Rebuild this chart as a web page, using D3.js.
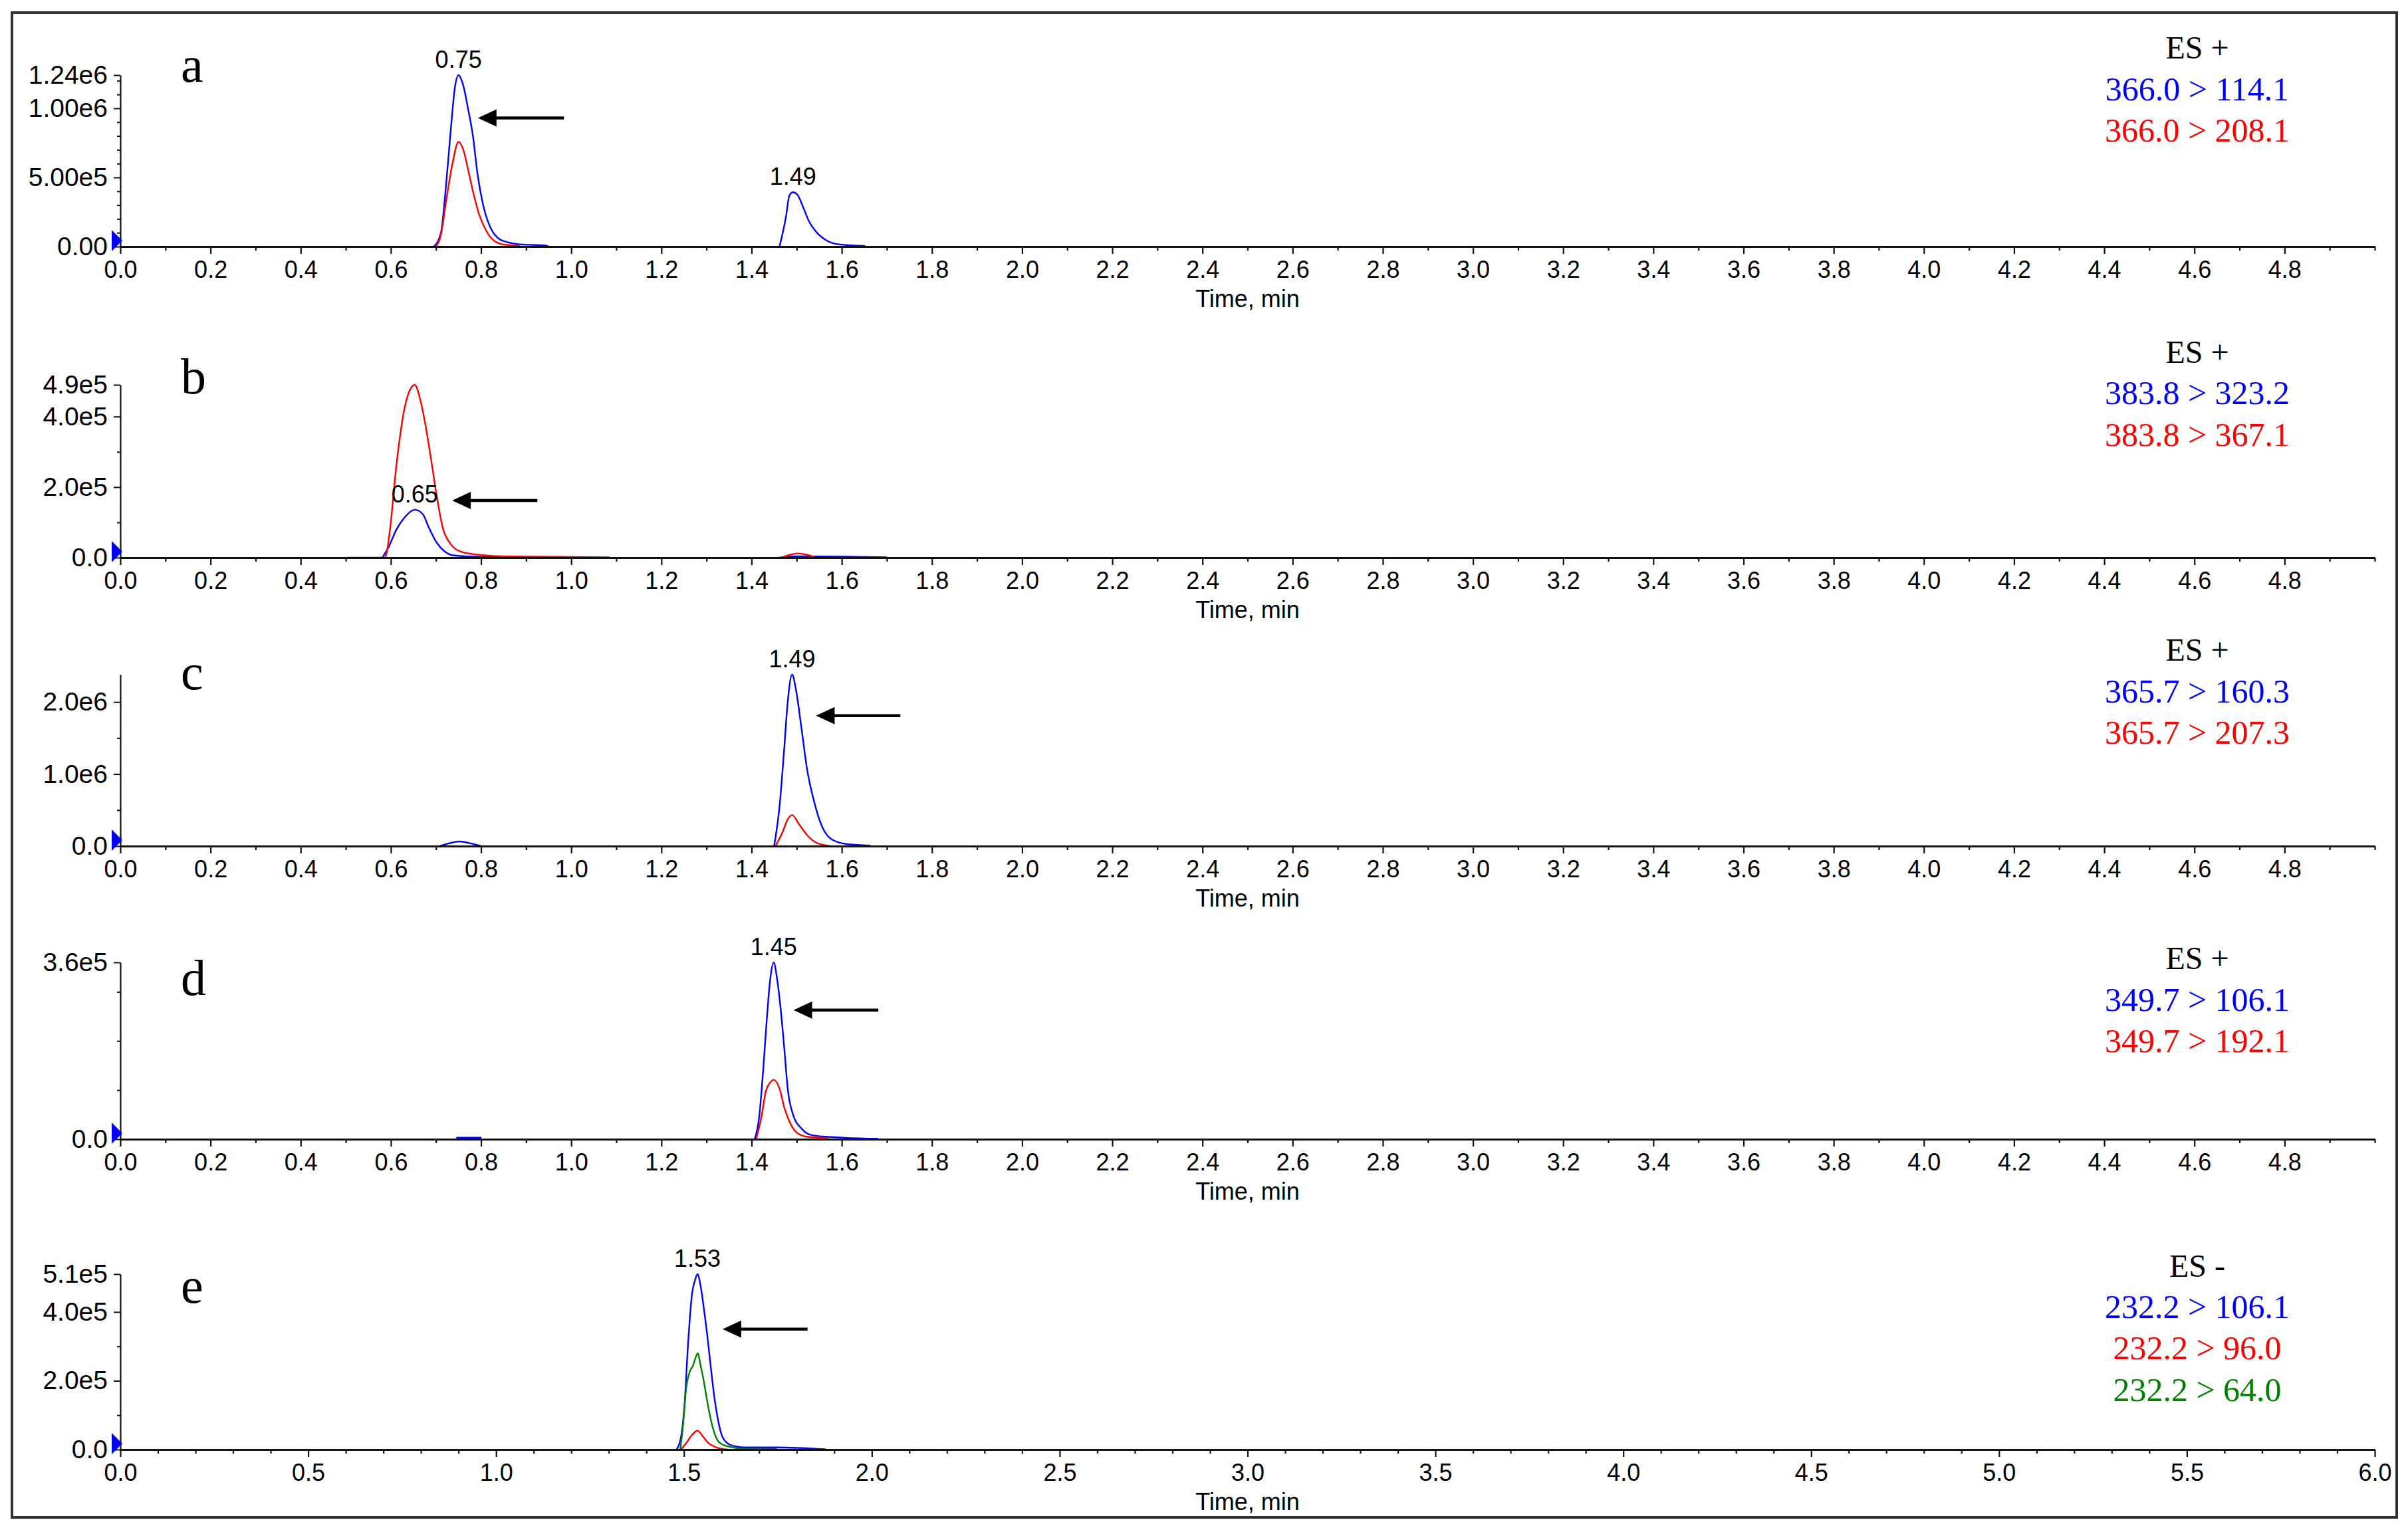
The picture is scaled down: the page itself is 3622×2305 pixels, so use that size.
<!DOCTYPE html>
<html><head><meta charset="utf-8">
<script src="https://cdn.jsdelivr.net/npm/d3@7"></script>
<style>body{margin:0;background:#fff} svg{display:block}</style>
</head><body>
<script>
// ---------------- DATA ----------------
const panelLetters = ["a", "b", "c", "d", "e"];
const xMax = [5.0, 5.0, 5.0, 5.0, 6.0];
const yMax = [1.24e6, 4.9e5, 2.38e6, 3.6e5, 5.1e5];
const xTickLabelsAD = ["0.0","0.2","0.4","0.6","0.8","1.0","1.2","1.4","1.6","1.8","2.0","2.2","2.4","2.6","2.8","3.0","3.2","3.4","3.6","3.8","4.0","4.2","4.4","4.6","4.8"];
const xTickLabelsE = ["0.0","0.5","1.0","1.5","2.0","2.5","3.0","3.5","4.0","4.5","5.0","5.5","6.0"];
const yTickValues = [[0, 5e5, 1e6, 1.24e6], [0, 2e5, 4e5, 4.9e5], [0, 1e6, 2e6], [0, 3.6e5], [0, 2e5, 4e5, 5.1e5]];
const yTickLabels = [["0.00","5.00e5","1.00e6","1.24e6"], ["0.0","2.0e5","4.0e5","4.9e5"], ["0.0","1.0e6","2.0e6"], ["0.0","3.6e5"], ["0.0","2.0e5","4.0e5","5.1e5"]];
const yMinorTicks = [[1e5,2e5,3e5,4e5,6e5,7e5,8e5,9e5,1.1e6,1.2e6], [1e5,3e5], [5e5,1.5e6], [1e5,2e5,3e5], [1e5,3e5]];
const modes = ["ES +", "ES +", "ES +", "ES +", "ES -"];
const transitions = [
  ["366.0 > 114.1", "366.0 > 208.1"],
  ["383.8 > 323.2", "383.8 > 367.1"],
  ["365.7 > 160.3", "365.7 > 207.3"],
  ["349.7 > 106.1", "349.7 > 192.1"],
  ["232.2 > 106.1", "232.2 > 96.0", "232.2 > 64.0"]
];

// traces: [time (min), intensity]; null = gap between acquisition windows
const aBlue = [[0.695,0],[0.711,1.0e5],[0.722,4.3e5],[0.733,8.5e5],[0.742,1.15e6],[0.750,1.24e6],[0.756,1.21e6],[0.761,1.16e6],[0.771,1.0e6],[0.782,8.0e5],[0.792,5.3e5],[0.804,3.1e5],[0.819,1.5e5],[0.836,6.6e4],[0.857,3.3e4],[0.886,1.6e4],[0.944,8e3],[0.95,0],
  null,[1.462,0],[1.476,2.1e5],[1.484,3.7e5],[1.492,3.93e5],[1.502,3.74e5],[1.515,2.8e5],[1.527,1.85e5],[1.544,1.04e5],[1.565,4.7e4],[1.594,1.6e4],[1.652,5e3]];
const aRed = [[0.699,0],[0.711,8.6e4],[0.723,3.4e5],[0.736,5.9e5],[0.750,7.57e5],[0.762,6.86e5],[0.773,5.3e5],[0.784,3.74e5],[0.796,2.3e5],[0.811,1.18e5],[0.827,4.7e4],[0.848,1.6e4],[0.886,5e3]];
const bBlue = [[0.581,0],[0.595,3e4],[0.612,7.9e4],[0.631,1.15e5],[0.653,1.36e5],[0.671,1.23e5],[0.684,8.6e4],[0.702,4.2e4],[0.720,1.7e4],[0.741,6e3],[0.80,2e3],[0.92,1e3],
  null,[1.46,0],[1.50,4e3],[1.70,1e3]];
const bRed = [[0.502,0],[0.586,0],[0.590,1e4],[0.599,9e4],[0.611,2.47e5],[0.622,3.6e5],[0.635,4.49e5],[0.653,4.9e5],[0.665,4.49e5],[0.677,3.74e5],[0.689,2.8e5],[0.702,1.72e5],[0.715,8.5e4],[0.733,3.8e4],[0.755,1.7e4],[0.791,8.5e3],[0.827,5e3],[0.90,3e3],[1.00,2e3],[1.085,1e3],
  null,[1.467,0],[1.485,8e3],[1.503,1.2e4],[1.520,9e3],[1.539,2e3]];
const cBlue = [[0.708,0],[0.730,4e4],[0.752,6.5e4],[0.775,4e4],[0.801,0],
  null,[1.450,0],[1.462,5.5e5],[1.472,1.32e6],[1.480,1.99e6],[1.490,2.38e6],[1.499,2.15e6],[1.511,1.62e6],[1.523,1.07e6],[1.539,6.1e5],[1.556,2.76e5],[1.578,9.2e4],[1.614,2.5e4],[1.663,8e3]];
const cRed = [[1.453,0],[1.468,1.84e5],[1.480,3.7e5],[1.490,4.3e5],[1.505,3.07e5],[1.523,1.54e5],[1.541,5.5e4],[1.565,1e4],[1.575,0]];
const dBlue = [[0.745,3e3],[0.801,3e3],
  null,[1.407,0],[1.417,4.6e4],[1.426,1.44e5],[1.434,2.47e5],[1.441,3.23e5],[1.449,3.6e5],[1.4565,3.27e5],[1.464,2.7e5],[1.473,1.8e5],[1.480,1.04e5],[1.492,5e4],[1.511,2.15e4],[1.529,9.4e3],[1.565,5e3],[1.681,1e3]];
const dRed = [[1.410,0],[1.422,4.6e4],[1.432,9.9e4],[1.441,1.15e5],[1.449,1.21e5],[1.462,1.03e5],[1.473,6.3e4],[1.486,3.2e4],[1.502,1.2e4],[1.523,5e3],[1.57,2e3]];
const eBlue = [[1.480,0],[1.4915,3.3e4],[1.5015,1.29e5],[1.511,3.08e5],[1.521,4.48e5],[1.530,4.94e5],[1.536,5.1e5],[1.5445,4.75e5],[1.553,4.1e5],[1.562,3.33e5],[1.571,2.44e5],[1.580,1.6e5],[1.589,9.6e4],[1.600,4.4e4],[1.615,1.9e4],[1.636,9.6e3],[1.659,6.4e3],[1.748,6.4e3],[1.877,1e3]];
const eRed = [[1.4915,0],[1.506,1.9e4],[1.521,4.2e4],[1.536,5.5e4],[1.550,3.9e4],[1.565,1.9e4],[1.583,7.7e3],[1.618,0]];
const eGreen = [[1.490,0],[1.497,6.3e4],[1.506,1.79e5],[1.515,2.25e5],[1.524,2.44e5],[1.533,2.73e5],[1.537,2.8e5],[1.5445,2.44e5],[1.553,1.98e5],[1.562,1.4e5],[1.571,9e4],[1.580,5.2e4],[1.592,2.3e4],[1.606,1.3e4],[1.624,7.7e3],[1.647,3e3],[1.748,2e3]];
const traces = [[aBlue, aRed], [bBlue, bRed], [cBlue, cRed], [dBlue, dRed], [eBlue, eRed, eGreen]];

// peak retention-time labels: [panel, time, apex intensity, text]
const peakLabels = [[0, 0.750, 1.24e6, "0.75"], [0, 1.492, 3.93e5, "1.49"], [1, 0.653, 1.36e5, "0.65"], [2, 1.490, 2.38e6, "1.49"], [3, 1.449, 3.6e5, "1.45"], [4, 1.536, 5.1e5, "1.53"]];
// arrows: [panel, tail time, tip time, intensity level]
const arrows = [[0, 0.984, 0.793, 9.3e5], [1, 0.925, 0.736, 1.62e5], [2, 1.730, 1.543, 1.81e6], [3, 1.681, 1.493, 2.63e5], [4, 1.829, 1.603, 3.5e5]];

// ---------------- LAYOUT / STYLE ----------------
const W = 3622, H = 2305;
const X0 = 181, X1 = 3572;
const layout = [{base: 371, top: 113}, {base: 839, top: 579}, {base: 1273, top: 1015}, {base: 1714, top: 1448}, {base: 2181, top: 1917}];
const letterY = [123, 592, 1037, 1497, 1960];
const labelCY = [[71, 134, 196], [529, 591, 654], [977, 1040, 1102], [1441, 1504, 1566], [1904, 1966, 2028, 2091]];
const colors = ["#0000ff", "#ff0000", "#008000"];
const sans = "'Liberation Sans', Arial, sans-serif";
const serif = "'Liberation Serif', 'Times New Roman', serif";
const axisColor = "#111";

const svg = d3.select("body").append("svg").attr("width", W).attr("height", H);
svg.append("rect").attr("width", W).attr("height", H).attr("fill", "#fff");
svg.append("rect").attr("x", 18).attr("y", 19).attr("width", 3587).attr("height", 2264)
  .attr("fill", "none").attr("stroke", "#333").attr("stroke-width", 4);

panelLetters.forEach((letter, i) => {
  const L = layout[i];
  const x = d3.scaleLinear().domain([0, xMax[i]]).range([X0, X1]);
  const y = d3.scaleLinear().domain([0, yMax[i]]).range([L.base, L.top]);
  const g = svg.append("g");

  // traces
  const line = d3.line().defined(d => d !== null).x(d => x(d[0])).y(d => y(d[1])).curve(d3.curveMonotoneX);
  traces[i].forEach((tr, k) => {
    g.append("path").attr("d", line(tr)).attr("fill", "none")
      .attr("stroke", colors[k]).attr("stroke-width", 2.4).attr("stroke-linejoin", "round");
  });

  // x axis
  const xLabels = i === 4 ? xTickLabelsE : xTickLabelsAD;
  const xVals = xLabels.map(Number);
  const xMinor = d3.range(0, Math.round(xMax[i] * 10) + 1).map(k => k / 10).filter(v => !xVals.some(m => Math.abs(m - v) < 1e-9));
  const gxMinor = g.append("g").attr("transform", `translate(0,${L.base})`)
    .call(d3.axisBottom(x).tickValues(xMinor).tickFormat("").tickSize(6).tickSizeOuter(0));
  gxMinor.select(".domain").remove();
  const gx = g.append("g").attr("transform", `translate(0,${L.base})`)
    .call(d3.axisBottom(x).tickValues(xVals).tickFormat((d, j) => xLabels[j]).tickSize(11).tickSizeOuter(0).tickPadding(10.4));
  gx.select(".domain").attr("stroke", axisColor).attr("stroke-width", 3);
  [gx, gxMinor].forEach(a => a.selectAll(".tick line").attr("stroke", axisColor).attr("stroke-width", 2.2));
  gx.selectAll(".tick text").attr("font-family", sans).attr("font-size", 36).attr("fill", "#000");

  // y axis
  const gyMinor = g.append("g").attr("transform", `translate(${X0},0)`)
    .call(d3.axisLeft(y).tickValues(yMinorTicks[i]).tickFormat("").tickSize(5).tickSizeOuter(0));
  gyMinor.select(".domain").remove();
  const gy = g.append("g").attr("transform", `translate(${X0},0)`)
    .call(d3.axisLeft(y).tickValues(yTickValues[i]).tickFormat((d, j) => yTickLabels[i][j]).tickSize(10).tickSizeOuter(0).tickPadding(9));
  gy.select(".domain").attr("stroke", axisColor).attr("stroke-width", 2.2);
  [gy, gyMinor].forEach(a => a.selectAll(".tick line").attr("stroke", axisColor).attr("stroke-width", 2));
  gy.selectAll(".tick text").attr("font-family", sans).attr("font-size", 39).attr("fill", "#000");

  // blue start marker
  g.append("polygon")
    .attr("points", `${X0 - 13},${L.base - 25} ${X0 - 13},${L.base + 7} ${X0 + 3},${L.base - 9}`)
    .attr("fill", "#0000ee");

  // axis title
  g.append("text").attr("x", (X0 + X1) / 2).attr("y", L.base + 91).attr("text-anchor", "middle")
    .attr("font-family", sans).attr("font-size", 36).text("Time, min");

  // panel letter
  g.append("text").attr("x", 272).attr("y", letterY[i]).attr("font-family", serif)
    .attr("font-size", 76).text(letter);

  // mode + transitions
  const lines = [modes[i]].concat(transitions[i]);
  lines.forEach((t, k) => {
    g.append("text").attr("x", 3305).attr("y", labelCY[i][k] + 17).attr("text-anchor", "middle")
      .attr("font-family", serif).attr("font-size", k === 0 ? 48 : 50)
      .attr("fill", k === 0 ? "#000" : colors[k - 1]).text(t);
  });

  // peak labels
  peakLabels.filter(p => p[0] === i).forEach(p => {
    g.append("text").attr("x", x(p[1])).attr("y", y(p[2]) - 11).attr("text-anchor", "middle")
      .attr("font-family", sans).attr("font-size", 36).text(p[3]);
  });

  // arrows
  arrows.filter(a => a[0] === i).forEach(a => {
    const xt = x(a[1]), xh = x(a[2]), yy = y(a[3]);
    g.append("line").attr("x1", xt).attr("y1", yy).attr("x2", xh + 20).attr("y2", yy)
      .attr("stroke", "#000").attr("stroke-width", 4.5);
    g.append("polygon").attr("points", `${xh},${yy} ${xh + 28},${yy - 13} ${xh + 28},${yy + 13}`).attr("fill", "#000");
  });
});
</script>
</body></html>
